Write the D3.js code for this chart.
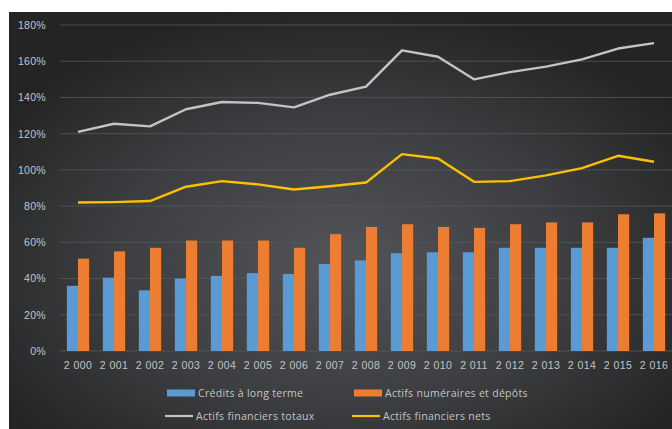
<!DOCTYPE html>
<html>
<head>
<meta charset="utf-8">
<script src="https://cdn.jsdelivr.net/npm/d3@7"></script>
<style>
  html, body { margin: 0; padding: 0; background: #fff; }
  svg { display: block; font-family: "Open Sans", "DejaVu Sans", sans-serif; }
</style>
</head>
<body>
<div id="chart"></div>
<script>
// données
const years = ['2 000', '2 001', '2 002', '2 003', '2 004', '2 005', '2 006', '2 007', '2 008',
  '2 009', '2 010', '2 011', '2 012', '2 013', '2 014', '2 015', '2 016'];
const credits = [36, 40.5, 33.5, 40, 41.5, 43, 42.5, 48, 50, 54, 54.5, 54.5, 57, 57, 57, 57, 62.5];
const numeraires = [51, 55, 57, 61, 61, 61, 57, 64.5, 68.5, 70, 68.5, 68, 70, 71, 71, 75.5, 76];
const totaux = [121, 125.5, 124, 133.5, 137.5, 137, 134.5, 141.5, 146, 166, 162.5, 150, 154, 157, 161, 167, 170];
const nets = [82, 82.2, 82.8, 90.7, 93.8, 92, 89.2, 91, 93, 108.7, 106.3, 93.4, 93.8, 97, 101, 107.8, 104.5];
const yTicks = [0, 20, 40, 60, 80, 100, 120, 140, 160, 180];

const W = 672, H = 429;
const TXT = '#c4c4c4';
const svg = d3.select('#chart').append('svg').attr('width', W).attr('height', H);

// fond sombre avec dégradé radial (style Excel)
const defs = svg.append('defs');
const grad = defs.append('radialGradient').attr('id', 'bg')
  .attr('cx', '50%').attr('cy', '60%').attr('r', '62%');
grad.append('stop').attr('offset', '0%').attr('stop-color', '#525458');
grad.append('stop').attr('offset', '55%').attr('stop-color', '#3c3e41');
grad.append('stop').attr('offset', '100%').attr('stop-color', '#242424');
svg.append('rect').attr('x', 9).attr('y', 12).attr('width', W - 9).attr('height', H - 12)
  .attr('fill', 'url(#bg)');

const m = { left: 60, right: 672, top: 25, bottom: 351 };
const x = d3.scaleBand().domain(years).range([m.left, m.right]).paddingInner(0.38).paddingOuter(0.19);
const y = d3.scaleLinear().domain([0, 180]).range([m.bottom, m.top]);

// grille
svg.append('g').selectAll('line').data(yTicks).join('line')
  .attr('x1', m.left).attr('x2', m.right)
  .attr('y1', d => y(d)).attr('y2', d => y(d))
  .attr('stroke', '#56585b').attr('stroke-width', 0.8);

// axe Y
const yAxis = svg.append('g').attr('transform', `translate(${m.left - 11},0)`)
  .call(d3.axisLeft(y).tickValues(yTicks).tickFormat(d => d + '%').tickSize(0));
yAxis.select('.domain').remove();
yAxis.selectAll('text').attr('fill', TXT).attr('font-size', 10.5).attr('letter-spacing', 0.3).attr('dx', 0);

// axe X
const xAxis = svg.append('g').attr('transform', `translate(0,${m.bottom + 8})`)
  .call(d3.axisBottom(x).tickSize(0));
xAxis.select('.domain').remove();
xAxis.selectAll('text').attr('fill', TXT).attr('font-size', 10.5).attr('letter-spacing', 0.4);

// barres
const sub = d3.scaleBand().domain(['c', 'n']).range([0, x.bandwidth()]);
const bars = svg.append('g');
bars.selectAll('.c').data(years).join('rect').attr('class', 'c')
  .attr('x', d => x(d) + sub('c')).attr('width', sub.bandwidth())
  .attr('y', (d, i) => y(credits[i])).attr('height', (d, i) => y(0) - y(credits[i]))
  .attr('fill', '#5b9bd5');
bars.selectAll('.n').data(years).join('rect').attr('class', 'n')
  .attr('x', d => x(d) + sub('n')).attr('width', sub.bandwidth())
  .attr('y', (d, i) => y(numeraires[i])).attr('height', (d, i) => y(0) - y(numeraires[i]))
  .attr('fill', '#ed7d31');

// courbes
const line = d3.line().x((d, i) => x(years[i]) + x.bandwidth() / 2).y(d => y(d));
svg.append('path').datum(totaux).attr('d', line)
  .attr('fill', 'none').attr('stroke', '#c4c4c4').attr('stroke-width', 2.4).attr('stroke-linejoin', 'round');
svg.append('path').datum(nets).attr('d', line)
  .attr('fill', 'none').attr('stroke', '#ffc000').attr('stroke-width', 2.4).attr('stroke-linejoin', 'round');

// légende
const legend = [
  { label: 'Crédits à long terme', color: '#5b9bd5', type: 'bar', x: 167, y: 393 },
  { label: 'Actifs numéraires et dépôts', color: '#ed7d31', type: 'bar', x: 354, y: 393 },
  { label: 'Actifs financiers totaux', color: '#c4c4c4', type: 'line', x: 165, y: 416 },
  { label: 'Actifs financiers nets', color: '#ffc000', type: 'line', x: 352, y: 416 }
];
const lg = svg.append('g').selectAll('g').data(legend).join('g')
  .attr('transform', d => `translate(${d.x},${d.y})`);
lg.filter(d => d.type === 'bar').append('rect')
  .attr('x', 0).attr('y', -3.5).attr('width', 28).attr('height', 7).attr('fill', d => d.color);
lg.filter(d => d.type === 'line').append('line')
  .attr('x1', 0).attr('x2', 28).attr('y1', 0).attr('y2', 0)
  .attr('stroke', d => d.color).attr('stroke-width', 2.2);
lg.append('text').attr('x', 31).attr('y', 3.8).attr('font-size', 10.5).attr('letter-spacing', 0.3)
  .attr('fill', TXT).text(d => d.label);
</script>
</body>
</html>
